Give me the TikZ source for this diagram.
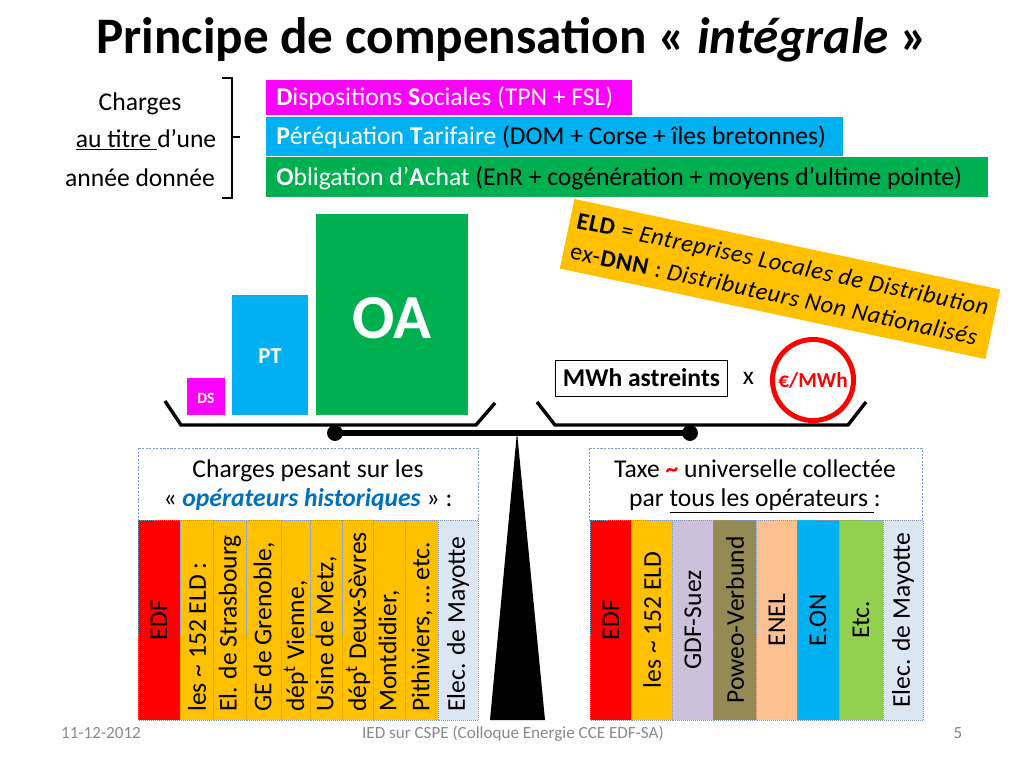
\documentclass[tikz,border=0pt]{standalone}
\usepackage{fontspec}
\setmainfont{Carlito}
\usetikzlibrary{positioning}

\definecolor{dsmag}{HTML}{FF00FF}
\definecolor{ptcyan}{HTML}{00B0F0}
\definecolor{oagreen}{HTML}{00B050}
\definecolor{eldorange}{HTML}{FFC000}
\definecolor{edfred}{HTML}{FF0000}
\definecolor{mayotte}{HTML}{DCE6F2}
\definecolor{gdflav}{HTML}{CCC0DA}
\definecolor{poweo}{HTML}{948A54}
\definecolor{enel}{HTML}{FAC090}
\definecolor{etcgreen}{HTML}{92D050}
\definecolor{histblue}{HTML}{0070C0}
\definecolor{frameblue}{HTML}{7F9FCF}
\definecolor{footgray}{HTML}{898989}

\def\colTop{520}
\def\colBot{720}

\tikzset{
  txt/.style={font=\fontsize{18}{22}\selectfont},
  hdrbox/.style={draw=frameblue, line width=0.5pt, dash pattern=on 1.5pt off 1pt},
  colbox/.style={draw=frameblue!70!gray, line width=0.4pt, densely dotted},
  vlbl/.style={txt, rotate=90, anchor=west},
  vmid/.style={txt, rotate=90},
  pan/.style={line width=2.4pt},
  foot/.style={font=\fontsize{12}{14}\selectfont, text=footgray, anchor=base},
}

\begin{document}
\begin{tikzpicture}[x=0.7031pt, y=-0.7031pt, inner sep=0pt]

	\useasboundingbox (0,0) rectangle (1024,768);

	\node[font=\fontsize{36}{40}\selectfont\bfseries] (title) at (512,40)
        {Principe de compensation « \textit{intégrale} »};

	% charges d'une annee
	\node[txt, anchor=base] (chg1) at (140,110) {Charges};
	\node[txt, anchor=base] (chg2) at (146,147) {\underline{au titre\ }d’une};
	\node[txt, anchor=base] (chg3) at (140,186) {année donnée};
	\draw[line width=1.1pt] (222,78) -- (232,78) -- (232,198) -- (222,198);
	\draw[line width=1.1pt] (232,137) -- (240,137);

	\fill[dsmag] (266,80) rectangle (632,115);
	\fill[ptcyan] (266,117) rectangle (843,156);
	\fill[oagreen] (266,157) rectangle (988,197);
	\node[txt, anchor=base west, text=white] (dsbar) at (276,105)
        {\textbf{D}ispositions \textbf{S}ociales (TPN + FSL)};
	\node[txt, anchor=base west] (ptbar) at (276,144)
        {\textcolor{white}{\textbf{P}éréquation \textbf{T}arifaire} (DOM + Corse + îles bretonnes)};
	\node[txt, anchor=base west] (oabar) at (276,185)
        {\textcolor{white}{\textbf{O}bligation d’\textbf{A}chat} (EnR + cogénération + moyens d’ultime pointe)};

	% plateau gauche
	\fill[dsmag] (187,378) rectangle (225,415);
	\fill[ptcyan] (232,295) rectangle (308,415);
	\fill[oagreen] (316,214) rectangle (468,415);
	\node[font=\fontsize{11}{12}\selectfont\bfseries, text=white] (ds) at (206,398) {DS};
	\node[font=\fontsize{16}{18}\selectfont\bfseries, text=white] (pt) at (270,356) {PT};
	\node[font=\fontsize{44}{48}\selectfont\bfseries, text=white] (oa) at (392,318) {OA};

	\node[font=\fontsize{17}{22}\selectfont\addfontfeature{LetterSpace=3}, fill=eldorange,
        rotate=-12, minimum width=306pt, minimum height=50pt, align=left] (eld) at (780,279)
        {\textbf{ELD} = \textit{Entreprises Locales de Distribution}\\
         ex-\textbf{DNN} : \textit{Distributeurs Non Nationalisés}};

	% plateau droit
	\node[draw, fill=white, line width=0.7pt, minimum width=121.6pt, minimum height=25.3pt,
        font=\fontsize{18}{22}\selectfont\bfseries] (mwh) at (641.5,378) {MWh astreints};
	\node[txt, right=10pt of mwh] (fois) {x};
	\node[circle, draw=edfred, line width=3.5pt, minimum size=57pt, text=edfred,
        font=\fontsize{15}{17}\selectfont\bfseries] (prix) at (813,380) {€/MWh};

	% balance
	\coordinate (pivotL) at (335,433);
	\coordinate (pivotR) at (690,433);
	\coordinate (apex) at (517,432);
	\draw[pan] (165,401) -- (181,425) -- (476,425) -- (495,403);
	\draw[pan] (537,402) -- (555,425) -- (848,425) -- (866,402);
	\draw[line width=4.2pt] (pivotL) -- (pivotR);
	\fill (pivotL) circle (5.6pt);
	\fill (pivotR) circle (5.6pt);
	\fill (apex) -- (545,720) -- (490,720) -- cycle;

	% operateurs historiques
	\draw[hdrbox, fill=white] (138,448) rectangle (478,520);
	\node[txt, anchor=base] (histL1) at (308,477) {Charges pesant sur les};
	\node[txt, anchor=base] (histL2) at (308,506)
        {« \textcolor{histblue}{\textbf{\textit{opérateurs historiques}}} » :};

	\filldraw[colbox, fill=edfred] (138,\colTop) rectangle (180,\colBot);
	\filldraw[colbox, fill=eldorange] (180,\colTop) rectangle (213,\colBot);
	\filldraw[colbox, fill=eldorange] (213,\colTop) rectangle (246,\colBot);
	\filldraw[colbox, fill=eldorange] (246,\colTop) rectangle (281,\colBot);
	\filldraw[colbox, fill=eldorange] (281,\colTop) rectangle (310,\colBot);
	\filldraw[colbox, fill=eldorange] (310,\colTop) rectangle (342,\colBot);
	\filldraw[colbox, fill=eldorange] (342,\colTop) rectangle (373,\colBot);
	\filldraw[colbox, fill=eldorange] (373,\colTop) rectangle (405,\colBot);
	\filldraw[colbox, fill=eldorange] (405,\colTop) rectangle (438,\colBot);
	\filldraw[colbox, fill=mayotte] (438,\colTop) rectangle (478,\colBot);

	\node[vmid] (edfA) at (159,620) {EDF};
	\node[vlbl] (eldA) at (197,712) {les \textasciitilde{} 152 ELD :};
	\node[vlbl] (strasA) at (230,712) {El. de Strasbourg};
	\node[vlbl] (grenA) at (264,712) {GE de Grenoble,};
	\node[vlbl] (vienA) at (296,712) {dép\textsuperscript{t} Vienne,};
	\node[vlbl] (metzA) at (326,712) {Usine de Metz,};
	\node[vlbl] (sevrA) at (358,712) {dép\textsuperscript{t} Deux-Sèvres};
	\node[vlbl] (montA) at (389,712) {Montdidier,};
	\node[vlbl] (pithA) at (422,712) {Pithiviers, … etc.};
	\node[vlbl] (mayA) at (458,712) {Elec. de Mayotte};

	% tous les operateurs
	\draw[hdrbox, fill=white] (589,448) rectangle (922,520);
	\node[txt, anchor=base] (taxeL1) at (755,477)
        {Taxe \textcolor{edfred}{\textbf{\textasciitilde}} universelle collectée};
	\node[txt, anchor=base] (taxeL2) at (755,506) {par \underline{tous les opérateurs\ }:};

	\filldraw[colbox, fill=edfred] (590,\colTop) rectangle (631,\colBot);
	\filldraw[colbox, fill=eldorange] (631,\colTop) rectangle (672,\colBot);
	\filldraw[colbox, fill=gdflav] (672,\colTop) rectangle (713,\colBot);
	\filldraw[colbox, fill=poweo] (713,\colTop) rectangle (756,\colBot);
	\filldraw[colbox, fill=enel] (756,\colTop) rectangle (797,\colBot);
	\filldraw[colbox, fill=ptcyan] (797,\colTop) rectangle (839,\colBot);
	\filldraw[colbox, fill=etcgreen] (839,\colTop) rectangle (883,\colBot);
	\filldraw[colbox, fill=mayotte] (883,\colTop) rectangle (923,\colBot);

	\node[vmid] (edfB) at (611,620) {EDF};
	\node[vmid] (eldB) at (652,620) {les \textasciitilde{} 152 ELD};
	\node[vmid] (gdfB) at (693,620) {GDF-Suez};
	\node[vmid] (poweoB) at (735,620) {Poweo-Verbund};
	\node[vmid] (enelB) at (777,620) {ENEL};
	\node[vmid] (eonB) at (818,620) {E.ON};
	\node[vmid] (etcB) at (861,620) {Etc.};
	\node[vmid] (mayB) at (903,620) {Elec. de Mayotte};

	% pied de page
	\node[foot] (date) at (101,738) {11-12-2012};
	\node[foot] (event) at (513,738) {IED sur CSPE (Colloque Energie CCE EDF-SA)};
	\node[foot] (page) at (958,738) {5};

\end{tikzpicture}
\end{document}
